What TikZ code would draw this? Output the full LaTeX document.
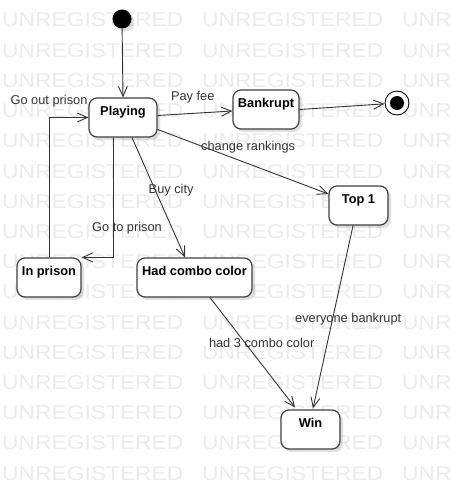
\documentclass[tikz,border=0pt]{standalone}
\usepackage{fontspec}
\setmainfont{Liberation Sans}
\newfontfamily\wmfont[FakeStretch=1.14]{Liberation Sans}
\usetikzlibrary{arrows.meta,shadows}

\begin{document}
\begin{tikzpicture}[x=1pt,y=-1pt,
  state/.style={draw=black!75,line width=1.2pt,rounded corners=8pt,fill=white,
    drop shadow={shadow xshift=3pt,shadow yshift=-3pt,opacity=0.12,fill=black},
    inner sep=4pt,text height=13.5pt,text depth=17.5pt,
    font=\fontsize{12.8}{14}\selectfont\bfseries},
  trans/.style={draw=black!80,line width=0.9pt,-{Straight Barb[length=10pt,width=9pt]}},
  lbl/.style={font=\fontsize{12.8}{14}\selectfont,text=black!80,inner sep=1pt},
  wm/.style={font=\wmfont\fontsize{20}{20}\selectfont,text=black!8,inner sep=0pt,anchor=base west}]
\useasboundingbox (0,0) rectangle (450,489);

% Watermark
\begin{scope}
\clip (0,0) rectangle (450,489);
\foreach \r in {0,...,15} {
  \foreach \c in {0,1,2} {
    \node[wm] (wm\r-\c) at (2+200*\c,27+30.2*\r) {UNREGISTERED};
  }
}
\end{scope}

% Initial and final states
\node[circle,fill=black,minimum size=19pt,inner sep=0pt,
  drop shadow={shadow xshift=3pt,shadow yshift=-3pt,opacity=0.12,fill=black}] (init) at (122,19) {};
\node[circle,draw=black,line width=0.9pt,fill=white,minimum size=24pt,inner sep=0pt] (fin) at (397,103) {};
\node[circle,fill=black,minimum size=14pt,inner sep=0pt] (finin) at (fin) {};

% States
\node[state,minimum width=68pt] (play) at (123,117.5) {Playing};
\node[state,minimum width=66pt] (bank) at (266,109.5) {Bankrupt};
\node[state,minimum width=59pt] (top) at (358.5,205.5) {Top 1};
\node[state,minimum width=64pt] (prison) at (49,277.5) {In prison};
\node[state,minimum width=115pt] (had) at (194.5,277.5) {Had combo color};
\node[state,minimum width=59pt] (win) at (310.5,429.5) {Win};

% Transitions
\draw[trans] (init) -- (play.north);
\draw[trans] ([yshift=2pt]play.east) -- node[lbl,pos=0.47,yshift=16pt] {Pay fee} ([yshift=-1.5pt]bank.west);
\draw[trans] (bank.east) -- (fin);
\draw[trans] ([yshift=-12pt]play.east) -- node[lbl,pos=0.53,yshift=16.7pt] {change rankings} ([yshift=11.5pt]top.west);
\draw[trans] ([xshift=9pt]play.south) -- node[lbl,pos=0.44,xshift=15.8pt] {Buy city} ([xshift=-9.5pt]had.north);
\draw[trans] ([xshift=-10pt]play.south) |- node[lbl,pos=0.38,xshift=14pt] {Go to prison} (prison.north east);
\draw[trans] (prison.north) |- node[lbl,pos=0.5,yshift=16.5pt] {Go out prison} (play.west);
\draw[trans] ([xshift=15.5pt]had.south) -- node[lbl,pos=0.41,xshift=16.8pt] {had 3 combo color} ([xshift=-15.5pt,yshift=2pt]win.north);
\draw[trans] ([xshift=-5.5pt]top.south) -- node[lbl,pos=0.51,xshift=15.6pt] {everyone bankrupt} ([xshift=2.5pt,yshift=1pt]win.north);
\end{tikzpicture}
\end{document}
